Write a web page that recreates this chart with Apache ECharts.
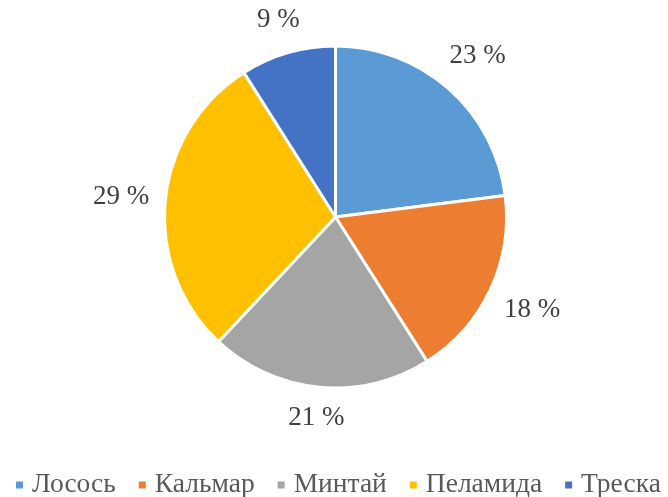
<!DOCTYPE html>
<html>
<head>
<meta charset="utf-8">
<script src="https://cdn.jsdelivr.net/npm/echarts@6/dist/echarts.min.js"></script>
<style>
html,body{margin:0;padding:0;background:#fff;}
#chart{width:668px;height:497px;}
</style>
</head>
<body>
<div id="chart"></div>
<script>
var categories = ['Лосось', 'Кальмар', 'Минтай', 'Пеламида', 'Треска'];
var shares = [23, 18, 21, 29, 9];
var colors = ['#5B9BD5', '#ED7D31', '#A5A5A5', '#FFC000', '#4472C4'];

var pieCenter = [335.5, 217];
var pieRadius = 171;
var labelGap = 15;

var mychart = echarts.init(document.getElementById('chart'));

var pieData = categories.map(function (name, i) {
    return {name: name, value: shares[i], itemStyle: {color: colors[i]}};
});

var option = {
    animation: false,
    legend: {
        left: 9,
        top: 466,
        width: 1000,
        icon: 'rect',
        itemWidth: 9,
        itemHeight: 9,
        itemGap: 21,
        textStyle: {
            fontFamily: 'Liberation Serif',
            fontSize: 27.5,
            color: '#595959',
            padding: [0, 0, 0, 3]
        },
        data: categories
    },
    series: [
        {
            name: 'Доля',
            type: 'pie',
            center: pieCenter,
            radius: pieRadius,
            startAngle: 90,
            clockwise: true,
            silent: true,
            itemStyle: {borderColor: '#fff', borderWidth: 3},
            label: {
                show: true,
                position: 'inside',
                formatter: '{c} %',
                fontFamily: 'Liberation Serif',
                fontSize: 27,
                color: '#404040'
            },
            labelLine: {show: false},
            // выносим подписи за край круга, как в Excel
            labelLayout: function (params) {
                var r = params.labelRect;
                var lx = r.x + r.width / 2 - pieCenter[0];
                var ly = r.y + r.height / 2 - pieCenter[1];
                var len = Math.sqrt(lx * lx + ly * ly) || 1;
                var ux = lx / len, uy = ly / len;
                var ext = Math.abs(ux) * r.width / 2 + Math.abs(uy) * r.height / 2;
                var d = pieRadius + labelGap + ext;
                return {
                    x: pieCenter[0] + ux * d,
                    y: pieCenter[1] + uy * d,
                    align: 'center',
                    verticalAlign: 'middle'
                };
            },
            data: pieData
        }
    ]
};
mychart.setOption(option);
</script>
</body>
</html>
